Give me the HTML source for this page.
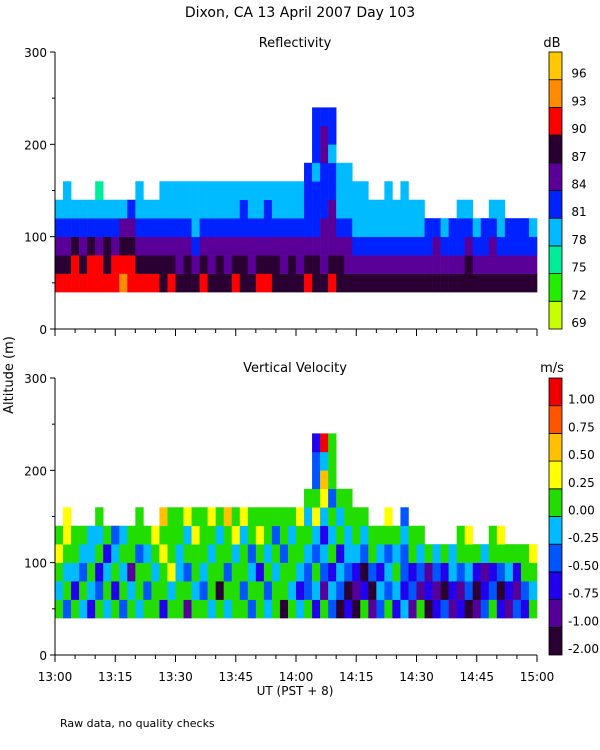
<!DOCTYPE html>
<html><head><meta charset="utf-8"><style>
body{margin:0;background:#fff;}
svg{display:block;font-family:"DejaVu Sans","Liberation Sans",sans-serif;}
text{fill:#000;}
</style></head><body>
<svg id="c" width="600" height="750" xmlns="http://www.w3.org/2000/svg">
<text x="300" y="17" text-anchor="middle" font-size="14">Dixon, CA 13 April 2007  Day 103</text>
<text x="295" y="47" text-anchor="middle" font-size="13">Reflectivity</text>
<text x="295" y="372" text-anchor="middle" font-size="13">Vertical Velocity</text>
<text x="552" y="47" text-anchor="middle" font-size="13">dB</text>
<text x="552" y="372" text-anchor="middle" font-size="13">m/s</text>
<text transform="translate(13,375) rotate(-90)" text-anchor="middle" font-size="13">Altitude (m)</text>
<text x="295" y="695" text-anchor="middle" font-size="12">UT  (PST + 8)</text>
<text x="60" y="727" font-size="11">Raw data, no quality checks</text>
<g id="g"></g>
</svg>
<script>
const times=["13:00","13:15","13:30","13:45","14:00","14:15","14:30","14:45","15:00"];
const altTicks=[0,100,200,300];
const dbLabels=[69,72,75,78,81,84,87,90,93,96];
const dbColors=["#c8ff00","#22ee00","#00ee99","#00bbff","#0022ff","#5a0099","#2a0033","#ff0000","#ff8c00","#ffc800"];
const msLabels=["-2.00","-1.00","-0.75","-0.50","-0.25","0.00","0.25","0.50","0.75","1.00"];
const msBounds=[-2,-1,-0.75,-0.5,-0.25,0,0.25,0.5,0.75,1,1.25];
const msColors=["#2a0033","#550099","#2200ee","#0055ff","#00bbff","#22dd00","#ffff00","#ffc000","#ff5500","#ee0000"];
const baseAlt=40, binH=20;
const reflCols=[[90,88,85,82,79],[91,89,86,82,79,79],[92,90,87,82,79],[91,88,85,82,79],[90,91,87,83,79],[92,90,86,82,79,76],[91,89,88,82,79],[90,91,86,83,79],[93,91,88,85,79],[92,90,87,84,82],
[91,88,85,82,79,79],[90,89,86,82,79],[91,87,85,82,79],[89,87,84,82,79,79],[90,88,85,82,79,79],[88,86,84,81,79,79],[89,87,84,82,79,79],[88,85,83,80,79,79],[90,87,85,82,80,79],[88,86,84,82,79,79],
[89,87,85,82,80,79],[88,86,84,81,79,79],[90,88,85,83,80,79],[89,87,85,82,82,79],[88,86,85,82,79,79],[90,88,86,83,80,79],[91,88,86,83,81,80],[89,87,85,82,79,79],[88,86,84,82,79,79],[89,87,85,82,80,79],
[88,86,84,82,79,79],[90,87,85,83,82,82,82],[89,87,86,83,82,82,80,82,82,82],[88,86,85,84,82,82,82,85,85,82],[90,88,86,85,84,82,82,80,82,82],[89,87,85,82,80,79,79],[88,86,85,82,79,79,79],[88,85,83,80,79,79],[87,85,83,80,79,79],[88,86,83,80,79],
[87,85,82,79,79],[89,86,83,80,79,79],[88,85,82,79,79],[88,86,83,80,79,79],[87,85,82,79,79],[88,86,83,80,79],[88,86,82,82],[89,86,84,82],[88,85,82,80],[87,86,83,82],
[88,85,82,82,79],[89,87,84,82,79],[88,85,83,80],[88,86,82,82],[89,86,84,82,79],[88,85,82,80,79],[88,86,83,82],[87,85,82,82],[88,86,83,82],[87,84,82,79]];
const velCols=[[0.1,-0.1,0.1,0.3,0.1],[-0.4,0.1,-0.1,0.1,0.3,0.3],[0.1,-0.6,-0.1,0.1,0.1],[-0.1,0.1,-0.4,-0.1,0.1],[-0.6,-0.1,0.1,-0.1,-0.1],[0.1,-0.4,-0.6,0.1,-0.1,0.1],[-0.1,0.1,-0.1,-0.6,0.1],[0.1,-0.6,0.1,-0.1,-0.4],[-0.4,0.1,-0.1,0.1,-0.1],[0.1,-0.1,-0.9,0.1,0.1],
[-0.1,0.1,0.1,-0.4,0.1,0.1],[0.1,-0.4,0.1,-0.1,0.1],[0.1,0.1,-0.1,0.1,0.3],[-0.6,0.1,0.1,0.3,0.1,0.6],[0.1,-0.1,0.3,0.1,0.1,0.1],[0.1,0.1,-0.1,-0.1,0.1,0.1],[-0.9,0.1,-0.4,0.1,-0.1,0.3],[0.1,-0.1,0.1,0.1,0.3,0.1],[0.1,-0.4,-0.1,0.1,0.1,0.1],[-0.1,0.1,0.1,-0.1,0.1,0.3],
[0.1,-1.5,0.1,0.1,-0.1,0.1],[-0.1,0.1,-0.4,0.1,0.1,0.6],[0.1,0.1,0.1,-0.1,0.3,0.1],[0.1,-0.4,0.1,0.1,-0.1,0.3],[-0.4,0.1,-0.1,-0.4,0.1,0.1],[0.1,0.1,-0.6,0.1,0.3,0.1],[-0.1,-0.4,0.1,-0.1,0.1,0.1],[0.1,0.1,-0.1,0.1,-0.4,0.1],[-1.5,0.1,0.1,-0.4,0.1,0.1],[0.1,-0.1,0.1,0.1,-0.1,0.1],
[-0.1,-0.6,-0.1,0.1,0.1,0.3],[0.1,-0.4,-0.4,-0.1,0.1,-0.1,0.1],[-0.6,-0.1,0.1,-0.4,-0.1,0.3,0.1,-0.4,-0.4,-0.6],[0.1,-0.9,-0.4,-0.1,-0.6,-0.1,0.3,0.6,-0.1,1.1],[-0.4,-0.1,-0.6,0.1,-0.1,0.1,-0.4,0.1,0.1,0.1],[-1.5,-0.4,-0.1,-0.6,0.1,-0.1,0.1],[-0.6,-1.5,-0.4,-0.1,-0.1,0.1,0.1],[-1.5,-0.9,-0.6,-0.1,0.1,0.1],[0.1,-0.6,-1.5,-0.4,-0.1,0.1],[-0.9,-1.5,-0.4,0.1,0.1],
[-0.4,-0.1,-0.6,-0.1,0.1],[0.1,-0.4,-0.1,-0.4,0.1,0.3],[-0.6,-0.1,0.1,-0.1,0.1],[-0.1,-0.6,-0.4,-0.4,-0.1,-0.4],[-0.9,-0.4,-0.6,0.1,0.1],[0.1,-0.9,-0.4,-0.1,0.1],[-1.5,-0.6,-0.9,0.1],[-0.6,-0.9,-0.4,-0.1],[-0.4,-1.5,-0.6,0.1],[-0.9,-0.6,-0.1,-0.1],
[-0.6,-0.9,-0.4,0.1,0.1],[-1.5,-0.4,-0.1,0.1,0.3],[-0.9,-1.5,-0.6,0.1],[-0.4,-0.6,-0.9,-0.1],[0.1,-0.4,-0.6,0.1,0.1],[-0.6,-1.5,-0.4,0.1,0.3],[-0.9,-0.6,-0.1,0.1],[-0.4,-0.9,-0.6,0.1],[-0.6,-0.4,0.1,0.1],[0.1,-0.1,0.1,0.3]];

const NS="http://www.w3.org/2000/svg";
const G=document.getElementById('g');
const X0=55,X1=537;
function mk(tag,attrs,parent){const e=document.createElementNS(NS,tag);for(const k in attrs)e.setAttribute(k,attrs[k]);(parent||G).appendChild(e);return e;}
function dbColor(v){let i=Math.floor((v-69)/3);i=Math.max(0,Math.min(9,i));return dbColors[i];}
function msColor(v){for(let i=0;i<10;i++){if(v<msBounds[i+1])return msColors[i];}return msColors[9];}

function panel(yTop,yBot,cols,colorFn,name){
  const yS=a=>yBot-(a/300)*(yBot-yTop);
  const xS=i=>X0+i*(X1-X0)/cols.length;
  const g=mk('g',{});
  
  
  cols.forEach((col,i)=>{col.forEach((v,j)=>{
    const r=mk('rect',{x:xS(i),y:yS(baseAlt+(j+1)*binH),width:xS(i+1)-xS(i)+0.3,height:yS(baseAlt+j*binH)-yS(baseAlt+(j+1)*binH)+0.3,fill:colorFn(v)},g);
    
    
  });});
  const ax=mk('g',{stroke:'#000','stroke-width':1});
  
  
  mk('line',{x1:X0,y1:yTop,x2:X0,y2:yBot},ax);
  mk('line',{x1:X0,y1:yBot,x2:X1,y2:yBot},ax);
  for(let a=0;a<=300;a+=50){mk('line',{x1:X0-(a%100?3:5),y1:yS(a),x2:X0,y2:yS(a)},ax);}
  altTicks.forEach(a=>{const t=mk('text',{x:X0-8,y:yS(a)+5,'text-anchor':'end','font-size':12,stroke:'none'});t.textContent=a;
    
    });
  for(let k=0;k<=24;k++){const x=X0+k*(X1-X0)/24;mk('line',{x1:x,y1:yBot,x2:x,y2:yBot+(k%3?4:7)},ax);}
}
function cbar(yTop,yBot,colors,labels,name){
  const h=(yBot-yTop)/colors.length;
  const g=mk('g',{});
  
  
  colors.forEach((c,i)=>{mk('rect',{x:549,y:yBot-(i+1)*h,width:13,height:h,fill:c,stroke:'#000','stroke-width':0.8},g);
    const t=mk('text',{x:name==='db'?579:568,y:yBot-i*h-2,'font-size':12,'text-anchor':name==='db'?'middle':'start'},g);t.textContent=labels[i];
    
    });
}
panel(52,329,reflCols,dbColor,'reflectivity');
panel(378,655,velCols,msColor,'velocity');
cbar(52,329,dbColors,dbLabels,'db');
cbar(378,655,msColors,msLabels,'ms');
times.forEach((t,k)=>{const e=mk('text',{x:X0+k*(X1-X0)/8,y:681,'text-anchor':'middle','font-size':12});e.textContent=t;
  
  });
</script>
</body></html>
